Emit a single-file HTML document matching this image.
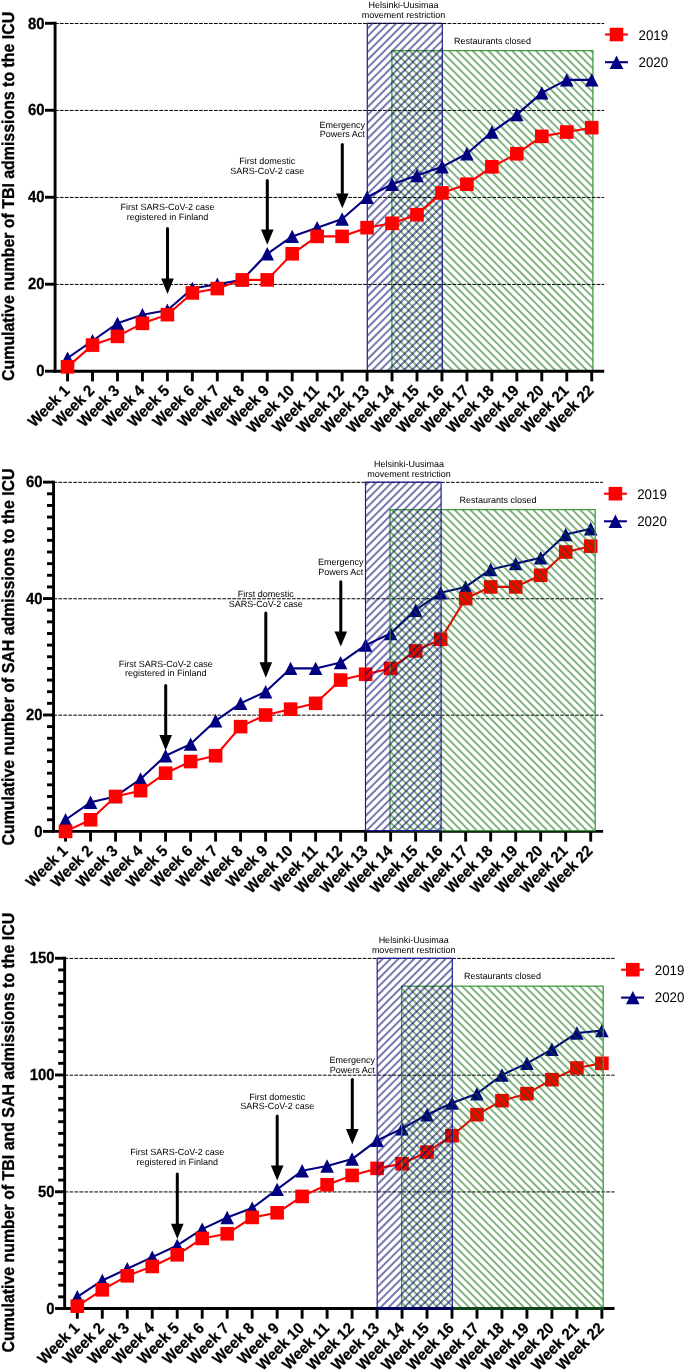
<!DOCTYPE html>
<html><head><meta charset="utf-8"><title>Cumulative ICU admissions</title>
<style>html,body{margin:0;padding:0;background:#fff;}body{width:685px;height:1370px;overflow:hidden;}svg{display:block;font-family:"Liberation Sans", sans-serif;will-change:transform;text-rendering:geometricPrecision;}</style>
</head><body>
<svg width="685" height="1370" viewBox="0 0 685 1370">
<rect width="685" height="1370" fill="#fff"/>
<g id="panel1">
<text transform="translate(14.4,196.4) rotate(-90) scale(1,1.08)" text-anchor="middle" font-size="15.9" font-weight="bold" fill="#000" stroke="#000" stroke-width="0.3">Cumulative number of TBI admissions to the ICU</text>
<clipPath id="cb1"><rect x="367.3" y="23.3" width="75" height="347.9"/></clipPath>
<clipPath id="cg1"><rect x="391.9" y="50.6" width="201" height="320.6"/></clipPath>
<path clip-path="url(#cg1)" d="M60.13,48.6 L384.73,373.2 M68.02,48.6 L392.62,373.2 M75.91,48.6 L400.51,373.2 M83.8,48.6 L408.4,373.2 M91.69,48.6 L416.29,373.2 M99.58,48.6 L424.18,373.2 M107.47,48.6 L432.07,373.2 M115.36,48.6 L439.96,373.2 M123.25,48.6 L447.85,373.2 M131.14,48.6 L455.74,373.2 M139.03,48.6 L463.63,373.2 M146.92,48.6 L471.52,373.2 M154.81,48.6 L479.41,373.2 M162.7,48.6 L487.3,373.2 M170.59,48.6 L495.19,373.2 M178.48,48.6 L503.08,373.2 M186.37,48.6 L510.97,373.2 M194.26,48.6 L518.86,373.2 M202.15,48.6 L526.75,373.2 M210.04,48.6 L534.64,373.2 M217.93,48.6 L542.53,373.2 M225.82,48.6 L550.42,373.2 M233.71,48.6 L558.31,373.2 M241.6,48.6 L566.2,373.2 M249.49,48.6 L574.09,373.2 M257.38,48.6 L581.98,373.2 M265.27,48.6 L589.87,373.2 M273.16,48.6 L597.76,373.2 M281.05,48.6 L605.65,373.2 M288.94,48.6 L613.54,373.2 M296.83,48.6 L621.43,373.2 M304.72,48.6 L629.32,373.2 M312.61,48.6 L637.21,373.2 M320.5,48.6 L645.1,373.2 M328.39,48.6 L652.99,373.2 M336.28,48.6 L660.88,373.2 M344.17,48.6 L668.77,373.2 M352.06,48.6 L676.66,373.2 M359.95,48.6 L684.55,373.2 M367.84,48.6 L692.44,373.2 M375.73,48.6 L700.33,373.2 M383.62,48.6 L708.22,373.2 M391.51,48.6 L716.11,373.2 M399.4,48.6 L724,373.2 M407.29,48.6 L731.89,373.2 M415.18,48.6 L739.78,373.2 M423.07,48.6 L747.67,373.2 M430.96,48.6 L755.56,373.2 M438.85,48.6 L763.45,373.2 M446.74,48.6 L771.34,373.2 M454.63,48.6 L779.23,373.2 M462.52,48.6 L787.12,373.2 M470.41,48.6 L795.01,373.2 M478.3,48.6 L802.9,373.2 M486.19,48.6 L810.79,373.2 M494.08,48.6 L818.68,373.2 M501.97,48.6 L826.57,373.2 M509.86,48.6 L834.46,373.2 M517.75,48.6 L842.35,373.2 M525.64,48.6 L850.24,373.2 M533.53,48.6 L858.13,373.2 M541.42,48.6 L866.02,373.2 M549.31,48.6 L873.91,373.2 M557.2,48.6 L881.8,373.2 M565.09,48.6 L889.69,373.2 M572.98,48.6 L897.58,373.2 M580.87,48.6 L905.47,373.2 M588.76,48.6 L913.36,373.2 M596.65,48.6 L921.25,373.2 M604.54,48.6 L929.14,373.2" stroke="rgba(0,102,0,0.49)" stroke-width="2.0" fill="none"/>
<rect x="391.9" y="50.6" width="201" height="320.6" fill="none" stroke="#3f9a3f" stroke-width="1.3" stroke-linejoin="round"/>
<path clip-path="url(#cb1)" d="M7.03,373.2 L358.93,21.3 M14.9,373.2 L366.8,21.3 M22.78,373.2 L374.68,21.3 M30.65,373.2 L382.55,21.3 M38.53,373.2 L390.43,21.3 M46.4,373.2 L398.3,21.3 M54.28,373.2 L406.18,21.3 M62.15,373.2 L414.05,21.3 M70.03,373.2 L421.93,21.3 M77.9,373.2 L429.8,21.3 M85.78,373.2 L437.68,21.3 M93.65,373.2 L445.55,21.3 M101.53,373.2 L453.43,21.3 M109.4,373.2 L461.3,21.3 M117.28,373.2 L469.18,21.3 M125.15,373.2 L477.05,21.3 M133.03,373.2 L484.93,21.3 M140.9,373.2 L492.8,21.3 M148.78,373.2 L500.68,21.3 M156.65,373.2 L508.55,21.3 M164.53,373.2 L516.43,21.3 M172.4,373.2 L524.3,21.3 M180.28,373.2 L532.18,21.3 M188.15,373.2 L540.05,21.3 M196.03,373.2 L547.93,21.3 M203.9,373.2 L555.8,21.3 M211.78,373.2 L563.68,21.3 M219.65,373.2 L571.55,21.3 M227.53,373.2 L579.43,21.3 M235.4,373.2 L587.3,21.3 M243.28,373.2 L595.18,21.3 M251.15,373.2 L603.05,21.3 M259.03,373.2 L610.93,21.3 M266.9,373.2 L618.8,21.3 M274.78,373.2 L626.68,21.3 M282.65,373.2 L634.55,21.3 M290.53,373.2 L642.43,21.3 M298.4,373.2 L650.3,21.3 M306.28,373.2 L658.18,21.3 M314.15,373.2 L666.05,21.3 M322.03,373.2 L673.93,21.3 M329.9,373.2 L681.8,21.3 M337.78,373.2 L689.68,21.3 M345.65,373.2 L697.55,21.3 M353.53,373.2 L705.43,21.3 M361.4,373.2 L713.3,21.3 M369.28,373.2 L721.18,21.3 M377.15,373.2 L729.05,21.3 M385.03,373.2 L736.93,21.3 M392.9,373.2 L744.8,21.3 M400.78,373.2 L752.68,21.3 M408.65,373.2 L760.55,21.3 M416.53,373.2 L768.43,21.3 M424.4,373.2 L776.3,21.3 M432.28,373.2 L784.18,21.3 M440.15,373.2 L792.05,21.3 M448.03,373.2 L799.93,21.3 M455.9,373.2 L807.8,21.3" stroke="rgba(0,0,110,0.52)" stroke-width="2.0" fill="none"/>
<rect x="367.3" y="23.3" width="75" height="347.9" fill="none" stroke="#1e1e92" stroke-width="1.2"/>
<line x1="54.95" y1="284.41" x2="604.2" y2="284.41" stroke="#000" stroke-width="1" stroke-dasharray="3.7 1.27"/>
<line x1="54.95" y1="197.43" x2="604.2" y2="197.43" stroke="#000" stroke-width="1" stroke-dasharray="3.7 1.27"/>
<line x1="54.95" y1="110.45" x2="604.2" y2="110.45" stroke="#000" stroke-width="1" stroke-dasharray="3.7 1.27"/>
<line x1="54.95" y1="23.48" x2="604.2" y2="23.48" stroke="#000" stroke-width="1" stroke-dasharray="3.7 1.27"/>
<line x1="55.1" y1="21.85" x2="55.1" y2="372.65" stroke="#000" stroke-width="2.9"/>
<line x1="53.65" y1="371.2" x2="604.2" y2="371.2" stroke="#000" stroke-width="2.9"/>
<line x1="45" y1="371.2" x2="55.1" y2="371.2" stroke="#000" stroke-width="2.9"/>
<text transform="translate(44.5,376.4) scale(1,1.085)" text-anchor="end" font-size="14.9" font-weight="bold" fill="#000" stroke="#000" stroke-width="0.25">0</text>
<line x1="45" y1="284.23" x2="55.1" y2="284.23" stroke="#000" stroke-width="2.9"/>
<text transform="translate(44.5,289.43) scale(1,1.085)" text-anchor="end" font-size="14.9" font-weight="bold" fill="#000" stroke="#000" stroke-width="0.25">20</text>
<line x1="45" y1="197.25" x2="55.1" y2="197.25" stroke="#000" stroke-width="2.9"/>
<text transform="translate(44.5,202.45) scale(1,1.085)" text-anchor="end" font-size="14.9" font-weight="bold" fill="#000" stroke="#000" stroke-width="0.25">40</text>
<line x1="45" y1="110.27" x2="55.1" y2="110.27" stroke="#000" stroke-width="2.9"/>
<text transform="translate(44.5,115.47) scale(1,1.085)" text-anchor="end" font-size="14.9" font-weight="bold" fill="#000" stroke="#000" stroke-width="0.25">60</text>
<line x1="45" y1="23.3" x2="55.1" y2="23.3" stroke="#000" stroke-width="2.9"/>
<text transform="translate(44.5,28.5) scale(1,1.085)" text-anchor="end" font-size="14.9" font-weight="bold" fill="#000" stroke="#000" stroke-width="0.25">80</text>
<line x1="67.55" y1="371.2" x2="67.55" y2="381.4" stroke="#000" stroke-width="2.9"/>
<text transform="translate(70.55,391.7) rotate(-45) scale(1,1.05)" text-anchor="end" font-size="15" font-weight="bold" fill="#000" stroke="#000" stroke-width="0.2">Week 1</text>
<line x1="92.51" y1="371.2" x2="92.51" y2="381.4" stroke="#000" stroke-width="2.9"/>
<text transform="translate(95.51,391.7) rotate(-45) scale(1,1.05)" text-anchor="end" font-size="15" font-weight="bold" fill="#000" stroke="#000" stroke-width="0.2">Week 2</text>
<line x1="117.47" y1="371.2" x2="117.47" y2="381.4" stroke="#000" stroke-width="2.9"/>
<text transform="translate(120.47,391.7) rotate(-45) scale(1,1.05)" text-anchor="end" font-size="15" font-weight="bold" fill="#000" stroke="#000" stroke-width="0.2">Week 3</text>
<line x1="142.43" y1="371.2" x2="142.43" y2="381.4" stroke="#000" stroke-width="2.9"/>
<text transform="translate(145.43,391.7) rotate(-45) scale(1,1.05)" text-anchor="end" font-size="15" font-weight="bold" fill="#000" stroke="#000" stroke-width="0.2">Week 4</text>
<line x1="167.39" y1="371.2" x2="167.39" y2="381.4" stroke="#000" stroke-width="2.9"/>
<text transform="translate(170.39,391.7) rotate(-45) scale(1,1.05)" text-anchor="end" font-size="15" font-weight="bold" fill="#000" stroke="#000" stroke-width="0.2">Week 5</text>
<line x1="192.35" y1="371.2" x2="192.35" y2="381.4" stroke="#000" stroke-width="2.9"/>
<text transform="translate(195.35,391.7) rotate(-45) scale(1,1.05)" text-anchor="end" font-size="15" font-weight="bold" fill="#000" stroke="#000" stroke-width="0.2">Week 6</text>
<line x1="217.31" y1="371.2" x2="217.31" y2="381.4" stroke="#000" stroke-width="2.9"/>
<text transform="translate(220.31,391.7) rotate(-45) scale(1,1.05)" text-anchor="end" font-size="15" font-weight="bold" fill="#000" stroke="#000" stroke-width="0.2">Week 7</text>
<line x1="242.27" y1="371.2" x2="242.27" y2="381.4" stroke="#000" stroke-width="2.9"/>
<text transform="translate(245.27,391.7) rotate(-45) scale(1,1.05)" text-anchor="end" font-size="15" font-weight="bold" fill="#000" stroke="#000" stroke-width="0.2">Week 8</text>
<line x1="267.23" y1="371.2" x2="267.23" y2="381.4" stroke="#000" stroke-width="2.9"/>
<text transform="translate(270.23,391.7) rotate(-45) scale(1,1.05)" text-anchor="end" font-size="15" font-weight="bold" fill="#000" stroke="#000" stroke-width="0.2">Week 9</text>
<line x1="292.19" y1="371.2" x2="292.19" y2="381.4" stroke="#000" stroke-width="2.9"/>
<text transform="translate(295.19,391.7) rotate(-45) scale(1,1.05)" text-anchor="end" font-size="15" font-weight="bold" fill="#000" stroke="#000" stroke-width="0.2">Week 10</text>
<line x1="317.15" y1="371.2" x2="317.15" y2="381.4" stroke="#000" stroke-width="2.9"/>
<text transform="translate(320.15,391.7) rotate(-45) scale(1,1.05)" text-anchor="end" font-size="15" font-weight="bold" fill="#000" stroke="#000" stroke-width="0.2">Week 11</text>
<line x1="342.11" y1="371.2" x2="342.11" y2="381.4" stroke="#000" stroke-width="2.9"/>
<text transform="translate(345.11,391.7) rotate(-45) scale(1,1.05)" text-anchor="end" font-size="15" font-weight="bold" fill="#000" stroke="#000" stroke-width="0.2">Week 12</text>
<line x1="367.07" y1="371.2" x2="367.07" y2="381.4" stroke="#000" stroke-width="2.9"/>
<text transform="translate(370.07,391.7) rotate(-45) scale(1,1.05)" text-anchor="end" font-size="15" font-weight="bold" fill="#000" stroke="#000" stroke-width="0.2">Week 13</text>
<line x1="392.03" y1="371.2" x2="392.03" y2="381.4" stroke="#000" stroke-width="2.9"/>
<text transform="translate(395.03,391.7) rotate(-45) scale(1,1.05)" text-anchor="end" font-size="15" font-weight="bold" fill="#000" stroke="#000" stroke-width="0.2">Week 14</text>
<line x1="416.99" y1="371.2" x2="416.99" y2="381.4" stroke="#000" stroke-width="2.9"/>
<text transform="translate(419.99,391.7) rotate(-45) scale(1,1.05)" text-anchor="end" font-size="15" font-weight="bold" fill="#000" stroke="#000" stroke-width="0.2">Week 15</text>
<line x1="441.95" y1="371.2" x2="441.95" y2="381.4" stroke="#000" stroke-width="2.9"/>
<text transform="translate(444.95,391.7) rotate(-45) scale(1,1.05)" text-anchor="end" font-size="15" font-weight="bold" fill="#000" stroke="#000" stroke-width="0.2">Week 16</text>
<line x1="466.91" y1="371.2" x2="466.91" y2="381.4" stroke="#000" stroke-width="2.9"/>
<text transform="translate(469.91,391.7) rotate(-45) scale(1,1.05)" text-anchor="end" font-size="15" font-weight="bold" fill="#000" stroke="#000" stroke-width="0.2">Week 17</text>
<line x1="491.87" y1="371.2" x2="491.87" y2="381.4" stroke="#000" stroke-width="2.9"/>
<text transform="translate(494.87,391.7) rotate(-45) scale(1,1.05)" text-anchor="end" font-size="15" font-weight="bold" fill="#000" stroke="#000" stroke-width="0.2">Week 18</text>
<line x1="516.83" y1="371.2" x2="516.83" y2="381.4" stroke="#000" stroke-width="2.9"/>
<text transform="translate(519.83,391.7) rotate(-45) scale(1,1.05)" text-anchor="end" font-size="15" font-weight="bold" fill="#000" stroke="#000" stroke-width="0.2">Week 19</text>
<line x1="541.79" y1="371.2" x2="541.79" y2="381.4" stroke="#000" stroke-width="2.9"/>
<text transform="translate(544.79,391.7) rotate(-45) scale(1,1.05)" text-anchor="end" font-size="15" font-weight="bold" fill="#000" stroke="#000" stroke-width="0.2">Week 20</text>
<line x1="566.75" y1="371.2" x2="566.75" y2="381.4" stroke="#000" stroke-width="2.9"/>
<text transform="translate(569.75,391.7) rotate(-45) scale(1,1.05)" text-anchor="end" font-size="15" font-weight="bold" fill="#000" stroke="#000" stroke-width="0.2">Week 21</text>
<line x1="591.71" y1="371.2" x2="591.71" y2="381.4" stroke="#000" stroke-width="2.9"/>
<text transform="translate(594.71,391.7) rotate(-45) scale(1,1.05)" text-anchor="end" font-size="15" font-weight="bold" fill="#000" stroke="#000" stroke-width="0.2">Week 22</text>
<text x="167.5" y="209.8" text-anchor="middle" font-size="9" fill="#000">First SARS-CoV-2 case</text>
<text x="167.5" y="219.8" text-anchor="middle" font-size="9" fill="#000">registered in Finland</text>
<line x1="167.5" y1="228.5" x2="167.5" y2="280" stroke="#000" stroke-width="3" stroke-linecap="round"/>
<path d="M161.2,278.4 L173.8,278.4 L167.5,294 Z" fill="#000"/>
<text x="267.3" y="163.65" text-anchor="middle" font-size="9" fill="#000">First domestic</text>
<text x="267.3" y="173.6" text-anchor="middle" font-size="9" fill="#000">SARS-CoV-2 case</text>
<line x1="267.3" y1="180.6" x2="267.3" y2="231.2" stroke="#000" stroke-width="3" stroke-linecap="round"/>
<path d="M261,229.6 L273.6,229.6 L267.3,244.8 Z" fill="#000"/>
<text x="342.3" y="127.7" text-anchor="middle" font-size="9" fill="#000">Emergency</text>
<text x="342.3" y="137.3" text-anchor="middle" font-size="9" fill="#000">Powers Act</text>
<line x1="342.3" y1="144.5" x2="342.3" y2="195.1" stroke="#000" stroke-width="3" stroke-linecap="round"/>
<path d="M336,193.5 L348.6,193.5 L342.3,208.3 Z" fill="#000"/>
<text x="403.6" y="7.6" text-anchor="middle" font-size="9" fill="#000">Helsinki-Uusimaa</text>
<text x="403.6" y="17.5" text-anchor="middle" font-size="9" fill="#000">movement restriction</text>
<text x="492.55" y="43.7" text-anchor="middle" font-size="9" fill="#000">Restaurants closed</text>
<polyline points="67.55,358.15 92.51,340.76 117.47,323.36 142.43,314.67 167.39,310.32 192.35,288.57 217.31,284.23 242.27,279.88 267.23,253.78 292.19,236.39 317.15,227.69 342.11,218.99 367.07,197.25 392.03,184.2 416.99,175.51 441.95,166.81 466.91,153.76 491.87,132.02 516.83,114.62 541.79,92.88 566.75,79.83 591.71,79.83" fill="none" stroke="#000080" stroke-width="2.1" stroke-linejoin="round"/>
<path d="M67.55,351.45 L74.35,364.85 L60.75,364.85 Z" fill="#000080"/>
<path d="M92.51,334.06 L99.31,347.46 L85.71,347.46 Z" fill="#000080"/>
<path d="M117.47,316.66 L124.27,330.06 L110.67,330.06 Z" fill="#000080"/>
<path d="M142.43,307.97 L149.23,321.37 L135.63,321.37 Z" fill="#000080"/>
<path d="M167.39,303.62 L174.19,317.02 L160.59,317.02 Z" fill="#000080"/>
<path d="M192.35,281.87 L199.15,295.27 L185.55,295.27 Z" fill="#000080"/>
<path d="M217.31,277.53 L224.11,290.93 L210.51,290.93 Z" fill="#000080"/>
<path d="M242.27,273.18 L249.07,286.58 L235.47,286.58 Z" fill="#000080"/>
<path d="M267.23,247.08 L274.03,260.48 L260.43,260.48 Z" fill="#000080"/>
<path d="M292.19,229.69 L298.99,243.09 L285.39,243.09 Z" fill="#000080"/>
<path d="M317.15,220.99 L323.95,234.39 L310.35,234.39 Z" fill="#000080"/>
<path d="M342.11,212.29 L348.91,225.69 L335.31,225.69 Z" fill="#000080"/>
<path d="M367.07,190.55 L373.87,203.95 L360.27,203.95 Z" fill="#000080"/>
<path d="M392.03,177.5 L398.83,190.9 L385.23,190.9 Z" fill="#000080"/>
<path d="M416.99,168.81 L423.79,182.21 L410.19,182.21 Z" fill="#000080"/>
<path d="M441.95,160.11 L448.75,173.51 L435.15,173.51 Z" fill="#000080"/>
<path d="M466.91,147.06 L473.71,160.46 L460.11,160.46 Z" fill="#000080"/>
<path d="M491.87,125.32 L498.67,138.72 L485.07,138.72 Z" fill="#000080"/>
<path d="M516.83,107.92 L523.63,121.32 L510.03,121.32 Z" fill="#000080"/>
<path d="M541.79,86.18 L548.59,99.58 L534.99,99.58 Z" fill="#000080"/>
<path d="M566.75,73.13 L573.55,86.53 L559.95,86.53 Z" fill="#000080"/>
<path d="M591.71,73.13 L598.51,86.53 L584.91,86.53 Z" fill="#000080"/>
<polyline points="67.55,366.85 92.51,345.11 117.47,336.41 142.43,323.36 167.39,314.67 192.35,292.92 217.31,288.57 242.27,279.88 267.23,279.88 292.19,253.78 317.15,236.39 342.11,236.39 367.07,227.69 392.03,223.34 416.99,214.64 441.95,192.9 466.91,184.2 491.87,166.81 516.83,153.76 541.79,136.37 566.75,132.02 591.71,127.67" fill="none" stroke="#ff0000" stroke-width="2.1" stroke-linejoin="round"/>
<rect x="60.75" y="360.05" width="13.6" height="13.6" fill="#ff0000"/>
<rect x="85.71" y="338.31" width="13.6" height="13.6" fill="#ff0000"/>
<rect x="110.67" y="329.61" width="13.6" height="13.6" fill="#ff0000"/>
<rect x="135.63" y="316.56" width="13.6" height="13.6" fill="#ff0000"/>
<rect x="160.59" y="307.87" width="13.6" height="13.6" fill="#ff0000"/>
<rect x="185.55" y="286.12" width="13.6" height="13.6" fill="#ff0000"/>
<rect x="210.51" y="281.77" width="13.6" height="13.6" fill="#ff0000"/>
<rect x="235.47" y="273.08" width="13.6" height="13.6" fill="#ff0000"/>
<rect x="260.43" y="273.08" width="13.6" height="13.6" fill="#ff0000"/>
<rect x="285.39" y="246.98" width="13.6" height="13.6" fill="#ff0000"/>
<rect x="310.35" y="229.59" width="13.6" height="13.6" fill="#ff0000"/>
<rect x="335.31" y="229.59" width="13.6" height="13.6" fill="#ff0000"/>
<rect x="360.27" y="220.89" width="13.6" height="13.6" fill="#ff0000"/>
<rect x="385.23" y="216.54" width="13.6" height="13.6" fill="#ff0000"/>
<rect x="410.19" y="207.84" width="13.6" height="13.6" fill="#ff0000"/>
<rect x="435.15" y="186.1" width="13.6" height="13.6" fill="#ff0000"/>
<rect x="460.11" y="177.4" width="13.6" height="13.6" fill="#ff0000"/>
<rect x="485.07" y="160.01" width="13.6" height="13.6" fill="#ff0000"/>
<rect x="510.03" y="146.96" width="13.6" height="13.6" fill="#ff0000"/>
<rect x="534.99" y="129.57" width="13.6" height="13.6" fill="#ff0000"/>
<rect x="559.95" y="125.22" width="13.6" height="13.6" fill="#ff0000"/>
<rect x="584.91" y="120.87" width="13.6" height="13.6" fill="#ff0000"/>
<line x1="605" y1="34.5" x2="627.9" y2="34.5" stroke="#ff0000" stroke-width="2.1"/>
<rect x="609.7" y="27.7" width="13.6" height="13.6" fill="#ff0000"/>
<text transform="translate(638.5,39.6) scale(0.965,1)" font-size="13.8" fill="#000">2019</text>
<line x1="605" y1="62.2" x2="627.9" y2="62.2" stroke="#000080" stroke-width="2.1"/>
<path d="M616.5,55.5 L623.3,68.9 L609.7,68.9 Z" fill="#000080"/>
<text transform="translate(638.5,66.9) scale(0.965,1)" font-size="13.8" fill="#000">2020</text>
</g>
<g id="panel2">
<text transform="translate(14.4,657) rotate(-90) scale(1,1.08)" text-anchor="middle" font-size="15.9" font-weight="bold" fill="#000" stroke="#000" stroke-width="0.3">Cumulative number of SAH admissions to the ICU</text>
<line x1="53.4" y1="715.16" x2="603.1" y2="715.16" stroke="#000" stroke-width="1" stroke-dasharray="3.7 1.27"/>
<line x1="53.4" y1="598.75" x2="603.1" y2="598.75" stroke="#000" stroke-width="1" stroke-dasharray="3.7 1.27"/>
<line x1="53.4" y1="482.33" x2="603.1" y2="482.33" stroke="#000" stroke-width="1" stroke-dasharray="3.7 1.27"/>
<line x1="53.55" y1="480.7" x2="53.55" y2="832.85" stroke="#000" stroke-width="2.9"/>
<line x1="52.1" y1="831.4" x2="603.1" y2="831.4" stroke="#000" stroke-width="2.9"/>
<line x1="43.05" y1="831.4" x2="53.55" y2="831.4" stroke="#000" stroke-width="2.9"/>
<text transform="translate(42.55,836.6) scale(1,1.085)" text-anchor="end" font-size="14.9" font-weight="bold" fill="#000" stroke="#000" stroke-width="0.25">0</text>
<line x1="43.05" y1="714.98" x2="53.55" y2="714.98" stroke="#000" stroke-width="2.9"/>
<text transform="translate(42.55,720.18) scale(1,1.085)" text-anchor="end" font-size="14.9" font-weight="bold" fill="#000" stroke="#000" stroke-width="0.25">20</text>
<line x1="43.05" y1="598.57" x2="53.55" y2="598.57" stroke="#000" stroke-width="2.9"/>
<text transform="translate(42.55,603.77) scale(1,1.085)" text-anchor="end" font-size="14.9" font-weight="bold" fill="#000" stroke="#000" stroke-width="0.25">40</text>
<line x1="43.05" y1="482.15" x2="53.55" y2="482.15" stroke="#000" stroke-width="2.9"/>
<text transform="translate(42.55,487.35) scale(1,1.085)" text-anchor="end" font-size="14.9" font-weight="bold" fill="#000" stroke="#000" stroke-width="0.25">60</text>
<line x1="47" y1="819.76" x2="53.55" y2="819.76" stroke="#000" stroke-width="2.9"/>
<line x1="47" y1="808.12" x2="53.55" y2="808.12" stroke="#000" stroke-width="2.9"/>
<line x1="47" y1="796.48" x2="53.55" y2="796.48" stroke="#000" stroke-width="2.9"/>
<line x1="47" y1="784.83" x2="53.55" y2="784.83" stroke="#000" stroke-width="2.9"/>
<line x1="47" y1="773.19" x2="53.55" y2="773.19" stroke="#000" stroke-width="2.9"/>
<line x1="47" y1="761.55" x2="53.55" y2="761.55" stroke="#000" stroke-width="2.9"/>
<line x1="47" y1="749.91" x2="53.55" y2="749.91" stroke="#000" stroke-width="2.9"/>
<line x1="47" y1="738.27" x2="53.55" y2="738.27" stroke="#000" stroke-width="2.9"/>
<line x1="47" y1="726.62" x2="53.55" y2="726.62" stroke="#000" stroke-width="2.9"/>
<line x1="47" y1="703.34" x2="53.55" y2="703.34" stroke="#000" stroke-width="2.9"/>
<line x1="47" y1="691.7" x2="53.55" y2="691.7" stroke="#000" stroke-width="2.9"/>
<line x1="47" y1="680.06" x2="53.55" y2="680.06" stroke="#000" stroke-width="2.9"/>
<line x1="47" y1="668.42" x2="53.55" y2="668.42" stroke="#000" stroke-width="2.9"/>
<line x1="47" y1="656.77" x2="53.55" y2="656.77" stroke="#000" stroke-width="2.9"/>
<line x1="47" y1="645.13" x2="53.55" y2="645.13" stroke="#000" stroke-width="2.9"/>
<line x1="47" y1="633.49" x2="53.55" y2="633.49" stroke="#000" stroke-width="2.9"/>
<line x1="47" y1="621.85" x2="53.55" y2="621.85" stroke="#000" stroke-width="2.9"/>
<line x1="47" y1="610.21" x2="53.55" y2="610.21" stroke="#000" stroke-width="2.9"/>
<line x1="47" y1="586.92" x2="53.55" y2="586.92" stroke="#000" stroke-width="2.9"/>
<line x1="47" y1="575.28" x2="53.55" y2="575.28" stroke="#000" stroke-width="2.9"/>
<line x1="47" y1="563.64" x2="53.55" y2="563.64" stroke="#000" stroke-width="2.9"/>
<line x1="47" y1="552" x2="53.55" y2="552" stroke="#000" stroke-width="2.9"/>
<line x1="47" y1="540.36" x2="53.55" y2="540.36" stroke="#000" stroke-width="2.9"/>
<line x1="47" y1="528.72" x2="53.55" y2="528.72" stroke="#000" stroke-width="2.9"/>
<line x1="47" y1="517.07" x2="53.55" y2="517.07" stroke="#000" stroke-width="2.9"/>
<line x1="47" y1="505.43" x2="53.55" y2="505.43" stroke="#000" stroke-width="2.9"/>
<line x1="47" y1="493.79" x2="53.55" y2="493.79" stroke="#000" stroke-width="2.9"/>
<line x1="65.55" y1="831.4" x2="65.55" y2="841.6" stroke="#000" stroke-width="2.9"/>
<text transform="translate(68.55,851.9) rotate(-45) scale(1,1.05)" text-anchor="end" font-size="15" font-weight="bold" fill="#000" stroke="#000" stroke-width="0.2">Week 1</text>
<line x1="90.56" y1="831.4" x2="90.56" y2="841.6" stroke="#000" stroke-width="2.9"/>
<text transform="translate(93.56,851.9) rotate(-45) scale(1,1.05)" text-anchor="end" font-size="15" font-weight="bold" fill="#000" stroke="#000" stroke-width="0.2">Week 2</text>
<line x1="115.56" y1="831.4" x2="115.56" y2="841.6" stroke="#000" stroke-width="2.9"/>
<text transform="translate(118.56,851.9) rotate(-45) scale(1,1.05)" text-anchor="end" font-size="15" font-weight="bold" fill="#000" stroke="#000" stroke-width="0.2">Week 3</text>
<line x1="140.57" y1="831.4" x2="140.57" y2="841.6" stroke="#000" stroke-width="2.9"/>
<text transform="translate(143.57,851.9) rotate(-45) scale(1,1.05)" text-anchor="end" font-size="15" font-weight="bold" fill="#000" stroke="#000" stroke-width="0.2">Week 4</text>
<line x1="165.58" y1="831.4" x2="165.58" y2="841.6" stroke="#000" stroke-width="2.9"/>
<text transform="translate(168.58,851.9) rotate(-45) scale(1,1.05)" text-anchor="end" font-size="15" font-weight="bold" fill="#000" stroke="#000" stroke-width="0.2">Week 5</text>
<line x1="190.59" y1="831.4" x2="190.59" y2="841.6" stroke="#000" stroke-width="2.9"/>
<text transform="translate(193.59,851.9) rotate(-45) scale(1,1.05)" text-anchor="end" font-size="15" font-weight="bold" fill="#000" stroke="#000" stroke-width="0.2">Week 6</text>
<line x1="215.59" y1="831.4" x2="215.59" y2="841.6" stroke="#000" stroke-width="2.9"/>
<text transform="translate(218.59,851.9) rotate(-45) scale(1,1.05)" text-anchor="end" font-size="15" font-weight="bold" fill="#000" stroke="#000" stroke-width="0.2">Week 7</text>
<line x1="240.6" y1="831.4" x2="240.6" y2="841.6" stroke="#000" stroke-width="2.9"/>
<text transform="translate(243.6,851.9) rotate(-45) scale(1,1.05)" text-anchor="end" font-size="15" font-weight="bold" fill="#000" stroke="#000" stroke-width="0.2">Week 8</text>
<line x1="265.61" y1="831.4" x2="265.61" y2="841.6" stroke="#000" stroke-width="2.9"/>
<text transform="translate(268.61,851.9) rotate(-45) scale(1,1.05)" text-anchor="end" font-size="15" font-weight="bold" fill="#000" stroke="#000" stroke-width="0.2">Week 9</text>
<line x1="290.61" y1="831.4" x2="290.61" y2="841.6" stroke="#000" stroke-width="2.9"/>
<text transform="translate(293.61,851.9) rotate(-45) scale(1,1.05)" text-anchor="end" font-size="15" font-weight="bold" fill="#000" stroke="#000" stroke-width="0.2">Week 10</text>
<line x1="315.62" y1="831.4" x2="315.62" y2="841.6" stroke="#000" stroke-width="2.9"/>
<text transform="translate(318.62,851.9) rotate(-45) scale(1,1.05)" text-anchor="end" font-size="15" font-weight="bold" fill="#000" stroke="#000" stroke-width="0.2">Week 11</text>
<line x1="340.63" y1="831.4" x2="340.63" y2="841.6" stroke="#000" stroke-width="2.9"/>
<text transform="translate(343.63,851.9) rotate(-45) scale(1,1.05)" text-anchor="end" font-size="15" font-weight="bold" fill="#000" stroke="#000" stroke-width="0.2">Week 12</text>
<line x1="365.63" y1="831.4" x2="365.63" y2="841.6" stroke="#000" stroke-width="2.9"/>
<text transform="translate(368.63,851.9) rotate(-45) scale(1,1.05)" text-anchor="end" font-size="15" font-weight="bold" fill="#000" stroke="#000" stroke-width="0.2">Week 13</text>
<line x1="390.64" y1="831.4" x2="390.64" y2="841.6" stroke="#000" stroke-width="2.9"/>
<text transform="translate(393.64,851.9) rotate(-45) scale(1,1.05)" text-anchor="end" font-size="15" font-weight="bold" fill="#000" stroke="#000" stroke-width="0.2">Week 14</text>
<line x1="415.65" y1="831.4" x2="415.65" y2="841.6" stroke="#000" stroke-width="2.9"/>
<text transform="translate(418.65,851.9) rotate(-45) scale(1,1.05)" text-anchor="end" font-size="15" font-weight="bold" fill="#000" stroke="#000" stroke-width="0.2">Week 15</text>
<line x1="440.66" y1="831.4" x2="440.66" y2="841.6" stroke="#000" stroke-width="2.9"/>
<text transform="translate(443.66,851.9) rotate(-45) scale(1,1.05)" text-anchor="end" font-size="15" font-weight="bold" fill="#000" stroke="#000" stroke-width="0.2">Week 16</text>
<line x1="465.66" y1="831.4" x2="465.66" y2="841.6" stroke="#000" stroke-width="2.9"/>
<text transform="translate(468.66,851.9) rotate(-45) scale(1,1.05)" text-anchor="end" font-size="15" font-weight="bold" fill="#000" stroke="#000" stroke-width="0.2">Week 17</text>
<line x1="490.67" y1="831.4" x2="490.67" y2="841.6" stroke="#000" stroke-width="2.9"/>
<text transform="translate(493.67,851.9) rotate(-45) scale(1,1.05)" text-anchor="end" font-size="15" font-weight="bold" fill="#000" stroke="#000" stroke-width="0.2">Week 18</text>
<line x1="515.68" y1="831.4" x2="515.68" y2="841.6" stroke="#000" stroke-width="2.9"/>
<text transform="translate(518.68,851.9) rotate(-45) scale(1,1.05)" text-anchor="end" font-size="15" font-weight="bold" fill="#000" stroke="#000" stroke-width="0.2">Week 19</text>
<line x1="540.68" y1="831.4" x2="540.68" y2="841.6" stroke="#000" stroke-width="2.9"/>
<text transform="translate(543.68,851.9) rotate(-45) scale(1,1.05)" text-anchor="end" font-size="15" font-weight="bold" fill="#000" stroke="#000" stroke-width="0.2">Week 20</text>
<line x1="565.69" y1="831.4" x2="565.69" y2="841.6" stroke="#000" stroke-width="2.9"/>
<text transform="translate(568.69,851.9) rotate(-45) scale(1,1.05)" text-anchor="end" font-size="15" font-weight="bold" fill="#000" stroke="#000" stroke-width="0.2">Week 21</text>
<line x1="590.7" y1="831.4" x2="590.7" y2="841.6" stroke="#000" stroke-width="2.9"/>
<text transform="translate(593.7,851.9) rotate(-45) scale(1,1.05)" text-anchor="end" font-size="15" font-weight="bold" fill="#000" stroke="#000" stroke-width="0.2">Week 22</text>
<text x="165.7" y="666.6" text-anchor="middle" font-size="9" fill="#000">First SARS-CoV-2 case</text>
<text x="165.7" y="676.3" text-anchor="middle" font-size="9" fill="#000">registered in Finland</text>
<line x1="165.7" y1="685.4" x2="165.7" y2="736.5" stroke="#000" stroke-width="3" stroke-linecap="round"/>
<path d="M159.4,734.9 L172,734.9 L165.7,750.5 Z" fill="#000"/>
<text x="265.8" y="596.6" text-anchor="middle" font-size="9" fill="#000">First domestic</text>
<text x="265.8" y="606.8" text-anchor="middle" font-size="9" fill="#000">SARS-CoV-2 case</text>
<line x1="265.8" y1="612.9" x2="265.8" y2="663.9" stroke="#000" stroke-width="3" stroke-linecap="round"/>
<path d="M259.5,662.3 L272.1,662.3 L265.8,677.8 Z" fill="#000"/>
<text x="340.8" y="565.4" text-anchor="middle" font-size="9" fill="#000">Emergency</text>
<text x="340.8" y="575" text-anchor="middle" font-size="9" fill="#000">Powers Act</text>
<line x1="340.8" y1="581.8" x2="340.8" y2="633" stroke="#000" stroke-width="3" stroke-linecap="round"/>
<path d="M334.5,631.4 L347.1,631.4 L340.8,646.6 Z" fill="#000"/>
<text x="409.1" y="466.7" text-anchor="middle" font-size="9" fill="#000">Helsinki-Uusimaa</text>
<text x="409.1" y="476.5" text-anchor="middle" font-size="9" fill="#000">movement restriction</text>
<text x="498" y="502.8" text-anchor="middle" font-size="9" fill="#000">Restaurants closed</text>
<polyline points="65.55,819.76 90.56,802.3 115.56,796.48 140.57,779.01 165.58,755.73 190.59,744.09 215.59,720.8 240.6,703.34 265.61,691.7 290.61,668.42 315.62,668.42 340.63,662.6 365.63,645.13 390.64,633.49 415.65,610.21 440.66,592.75 465.66,586.92 490.67,569.46 515.68,563.64 540.68,557.82 565.69,534.54 590.7,528.72" fill="none" stroke="#000080" stroke-width="2.1" stroke-linejoin="round"/>
<path d="M65.55,813.06 L72.35,826.46 L58.75,826.46 Z" fill="#000080"/>
<path d="M90.56,795.6 L97.36,809 L83.76,809 Z" fill="#000080"/>
<path d="M115.56,789.77 L122.36,803.18 L108.76,803.18 Z" fill="#000080"/>
<path d="M140.57,772.31 L147.37,785.71 L133.77,785.71 Z" fill="#000080"/>
<path d="M165.58,749.03 L172.38,762.43 L158.78,762.43 Z" fill="#000080"/>
<path d="M190.59,737.39 L197.39,750.79 L183.78,750.79 Z" fill="#000080"/>
<path d="M215.59,714.1 L222.39,727.5 L208.79,727.5 Z" fill="#000080"/>
<path d="M240.6,696.64 L247.4,710.04 L233.8,710.04 Z" fill="#000080"/>
<path d="M265.61,685 L272.41,698.4 L258.81,698.4 Z" fill="#000080"/>
<path d="M290.61,661.72 L297.41,675.12 L283.81,675.12 Z" fill="#000080"/>
<path d="M315.62,661.72 L322.42,675.12 L308.82,675.12 Z" fill="#000080"/>
<path d="M340.63,655.9 L347.43,669.3 L333.83,669.3 Z" fill="#000080"/>
<path d="M365.63,638.43 L372.43,651.83 L358.83,651.83 Z" fill="#000080"/>
<path d="M390.64,626.79 L397.44,640.19 L383.84,640.19 Z" fill="#000080"/>
<path d="M415.65,603.51 L422.45,616.91 L408.85,616.91 Z" fill="#000080"/>
<path d="M440.66,586.05 L447.46,599.45 L433.86,599.45 Z" fill="#000080"/>
<path d="M465.66,580.22 L472.46,593.62 L458.86,593.62 Z" fill="#000080"/>
<path d="M490.67,562.76 L497.47,576.16 L483.87,576.16 Z" fill="#000080"/>
<path d="M515.68,556.94 L522.48,570.34 L508.88,570.34 Z" fill="#000080"/>
<path d="M540.68,551.12 L547.48,564.52 L533.88,564.52 Z" fill="#000080"/>
<path d="M565.69,527.84 L572.49,541.24 L558.89,541.24 Z" fill="#000080"/>
<path d="M590.7,522.02 L597.5,535.42 L583.9,535.42 Z" fill="#000080"/>
<polyline points="65.55,831.4 90.56,819.76 115.56,796.48 140.57,790.65 165.58,773.19 190.59,761.55 215.59,755.73 240.6,726.62 265.61,714.98 290.61,709.16 315.62,703.34 340.63,680.06 365.63,674.24 390.64,668.42 415.65,650.95 440.66,639.31 465.66,598.57 490.67,586.92 515.68,586.92 540.68,575.28 565.69,552 590.7,546.18" fill="none" stroke="#ff0000" stroke-width="2.1" stroke-linejoin="round"/>
<rect x="58.75" y="824.6" width="13.6" height="13.6" fill="#ff0000"/>
<rect x="83.76" y="812.96" width="13.6" height="13.6" fill="#ff0000"/>
<rect x="108.76" y="789.68" width="13.6" height="13.6" fill="#ff0000"/>
<rect x="133.77" y="783.85" width="13.6" height="13.6" fill="#ff0000"/>
<rect x="158.78" y="766.39" width="13.6" height="13.6" fill="#ff0000"/>
<rect x="183.78" y="754.75" width="13.6" height="13.6" fill="#ff0000"/>
<rect x="208.79" y="748.93" width="13.6" height="13.6" fill="#ff0000"/>
<rect x="233.8" y="719.83" width="13.6" height="13.6" fill="#ff0000"/>
<rect x="258.81" y="708.18" width="13.6" height="13.6" fill="#ff0000"/>
<rect x="283.81" y="702.36" width="13.6" height="13.6" fill="#ff0000"/>
<rect x="308.82" y="696.54" width="13.6" height="13.6" fill="#ff0000"/>
<rect x="333.83" y="673.26" width="13.6" height="13.6" fill="#ff0000"/>
<rect x="358.83" y="667.44" width="13.6" height="13.6" fill="#ff0000"/>
<rect x="383.84" y="661.62" width="13.6" height="13.6" fill="#ff0000"/>
<rect x="408.85" y="644.15" width="13.6" height="13.6" fill="#ff0000"/>
<rect x="433.86" y="632.51" width="13.6" height="13.6" fill="#ff0000"/>
<rect x="458.86" y="591.77" width="13.6" height="13.6" fill="#ff0000"/>
<rect x="483.87" y="580.12" width="13.6" height="13.6" fill="#ff0000"/>
<rect x="508.88" y="580.12" width="13.6" height="13.6" fill="#ff0000"/>
<rect x="533.88" y="568.48" width="13.6" height="13.6" fill="#ff0000"/>
<rect x="558.89" y="545.2" width="13.6" height="13.6" fill="#ff0000"/>
<rect x="583.9" y="539.38" width="13.6" height="13.6" fill="#ff0000"/>
<clipPath id="cb2"><rect x="365.5" y="482.15" width="75.6" height="348.45"/></clipPath>
<clipPath id="cg2"><rect x="390" y="509.6" width="205.2" height="321"/></clipPath>
<path clip-path="url(#cg2)" d="M51.92,507.6 L376.92,832.6 M59.78,507.6 L384.78,832.6 M67.63,507.6 L392.63,832.6 M75.48,507.6 L400.48,832.6 M83.33,507.6 L408.33,832.6 M91.18,507.6 L416.18,832.6 M99.04,507.6 L424.04,832.6 M106.89,507.6 L431.89,832.6 M114.74,507.6 L439.74,832.6 M122.59,507.6 L447.59,832.6 M130.44,507.6 L455.44,832.6 M138.3,507.6 L463.3,832.6 M146.15,507.6 L471.15,832.6 M154,507.6 L479,832.6 M161.85,507.6 L486.85,832.6 M169.7,507.6 L494.7,832.6 M177.56,507.6 L502.56,832.6 M185.41,507.6 L510.41,832.6 M193.26,507.6 L518.26,832.6 M201.11,507.6 L526.11,832.6 M208.96,507.6 L533.96,832.6 M216.82,507.6 L541.82,832.6 M224.67,507.6 L549.67,832.6 M232.52,507.6 L557.52,832.6 M240.37,507.6 L565.37,832.6 M248.22,507.6 L573.22,832.6 M256.08,507.6 L581.08,832.6 M263.93,507.6 L588.93,832.6 M271.78,507.6 L596.78,832.6 M279.63,507.6 L604.63,832.6 M287.48,507.6 L612.48,832.6 M295.34,507.6 L620.34,832.6 M303.19,507.6 L628.19,832.6 M311.04,507.6 L636.04,832.6 M318.89,507.6 L643.89,832.6 M326.74,507.6 L651.74,832.6 M334.6,507.6 L659.6,832.6 M342.45,507.6 L667.45,832.6 M350.3,507.6 L675.3,832.6 M358.15,507.6 L683.15,832.6 M366,507.6 L691,832.6 M373.86,507.6 L698.86,832.6 M381.71,507.6 L706.71,832.6 M389.56,507.6 L714.56,832.6 M397.41,507.6 L722.41,832.6 M405.26,507.6 L730.26,832.6 M413.12,507.6 L738.12,832.6 M420.97,507.6 L745.97,832.6 M428.82,507.6 L753.82,832.6 M436.67,507.6 L761.67,832.6 M444.52,507.6 L769.52,832.6 M452.38,507.6 L777.38,832.6 M460.23,507.6 L785.23,832.6 M468.08,507.6 L793.08,832.6 M475.93,507.6 L800.93,832.6 M483.78,507.6 L808.78,832.6 M491.64,507.6 L816.64,832.6 M499.49,507.6 L824.49,832.6 M507.34,507.6 L832.34,832.6 M515.19,507.6 L840.19,832.6 M523.04,507.6 L848.04,832.6 M530.9,507.6 L855.9,832.6 M538.75,507.6 L863.75,832.6 M546.6,507.6 L871.6,832.6 M554.45,507.6 L879.45,832.6 M562.3,507.6 L887.3,832.6 M570.16,507.6 L895.16,832.6 M578.01,507.6 L903.01,832.6 M585.86,507.6 L910.86,832.6 M593.71,507.6 L918.71,832.6 M601.56,507.6 L926.56,832.6" stroke="rgba(0,102,0,0.49)" stroke-width="2.0" fill="none"/>
<rect x="390" y="509.6" width="205.2" height="321" fill="none" stroke="#3f9a3f" stroke-width="1.3" stroke-linejoin="round"/>
<path clip-path="url(#cb2)" d="M2.37,832.6 L354.82,480.15 M10.25,832.6 L362.7,480.15 M18.12,832.6 L370.57,480.15 M26,832.6 L378.45,480.15 M33.87,832.6 L386.32,480.15 M41.75,832.6 L394.2,480.15 M49.62,832.6 L402.07,480.15 M57.5,832.6 L409.95,480.15 M65.37,832.6 L417.82,480.15 M73.25,832.6 L425.7,480.15 M81.12,832.6 L433.57,480.15 M89,832.6 L441.45,480.15 M96.87,832.6 L449.32,480.15 M104.75,832.6 L457.2,480.15 M112.62,832.6 L465.07,480.15 M120.5,832.6 L472.95,480.15 M128.37,832.6 L480.82,480.15 M136.25,832.6 L488.7,480.15 M144.12,832.6 L496.57,480.15 M152,832.6 L504.45,480.15 M159.87,832.6 L512.32,480.15 M167.75,832.6 L520.2,480.15 M175.62,832.6 L528.07,480.15 M183.5,832.6 L535.95,480.15 M191.37,832.6 L543.82,480.15 M199.25,832.6 L551.7,480.15 M207.12,832.6 L559.57,480.15 M215,832.6 L567.45,480.15 M222.87,832.6 L575.32,480.15 M230.75,832.6 L583.2,480.15 M238.62,832.6 L591.07,480.15 M246.5,832.6 L598.95,480.15 M254.37,832.6 L606.82,480.15 M262.25,832.6 L614.7,480.15 M270.12,832.6 L622.57,480.15 M278,832.6 L630.45,480.15 M285.87,832.6 L638.32,480.15 M293.75,832.6 L646.2,480.15 M301.62,832.6 L654.07,480.15 M309.5,832.6 L661.95,480.15 M317.37,832.6 L669.82,480.15 M325.25,832.6 L677.7,480.15 M333.12,832.6 L685.57,480.15 M341,832.6 L693.45,480.15 M348.87,832.6 L701.32,480.15 M356.75,832.6 L709.2,480.15 M364.62,832.6 L717.07,480.15 M372.5,832.6 L724.95,480.15 M380.37,832.6 L732.82,480.15 M388.25,832.6 L740.7,480.15 M396.12,832.6 L748.57,480.15 M404,832.6 L756.45,480.15 M411.87,832.6 L764.32,480.15 M419.75,832.6 L772.2,480.15 M427.62,832.6 L780.07,480.15 M435.5,832.6 L787.95,480.15 M443.37,832.6 L795.82,480.15 M451.25,832.6 L803.7,480.15" stroke="rgba(0,0,110,0.52)" stroke-width="2.0" fill="none"/>
<rect x="365.5" y="482.15" width="75.6" height="348.45" fill="none" stroke="#1e1e92" stroke-width="1.2"/>
<line x1="604" y1="493.7" x2="626.9" y2="493.7" stroke="#ff0000" stroke-width="2.1"/>
<rect x="608.6" y="486.9" width="13.6" height="13.6" fill="#ff0000"/>
<text transform="translate(637.2,498.8) scale(0.965,1)" font-size="13.8" fill="#000">2019</text>
<line x1="604" y1="521.3" x2="626.9" y2="521.3" stroke="#000080" stroke-width="2.1"/>
<path d="M615.4,514.6 L622.2,528 L608.6,528 Z" fill="#000080"/>
<text transform="translate(637.2,526.1) scale(0.965,1)" font-size="13.8" fill="#000">2020</text>
</g>
<g id="panel3">
<text transform="translate(14.4,1132.7) rotate(-90) scale(1,1.08)" text-anchor="middle" font-size="15.9" font-weight="bold" fill="#000" stroke="#000" stroke-width="0.3">Cumulative number of TBI and SAH admissions to the ICU</text>
<line x1="64.5" y1="1191.93" x2="614.5" y2="1191.93" stroke="#000" stroke-width="1" stroke-dasharray="3.7 1.27"/>
<line x1="64.5" y1="1075.18" x2="614.5" y2="1075.18" stroke="#000" stroke-width="1" stroke-dasharray="3.7 1.27"/>
<line x1="64.5" y1="958.43" x2="614.5" y2="958.43" stroke="#000" stroke-width="1" stroke-dasharray="3.7 1.27"/>
<line x1="64.65" y1="956.8" x2="64.65" y2="1309.95" stroke="#000" stroke-width="2.9"/>
<line x1="63.2" y1="1308.5" x2="614.5" y2="1308.5" stroke="#000" stroke-width="2.9"/>
<line x1="55" y1="1308.5" x2="64.65" y2="1308.5" stroke="#000" stroke-width="2.9"/>
<text transform="translate(54.5,1313.7) scale(1,1.085)" text-anchor="end" font-size="14.9" font-weight="bold" fill="#000" stroke="#000" stroke-width="0.25">0</text>
<line x1="55" y1="1191.75" x2="64.65" y2="1191.75" stroke="#000" stroke-width="2.9"/>
<text transform="translate(54.5,1196.95) scale(1,1.085)" text-anchor="end" font-size="14.9" font-weight="bold" fill="#000" stroke="#000" stroke-width="0.25">50</text>
<line x1="55" y1="1075" x2="64.65" y2="1075" stroke="#000" stroke-width="2.9"/>
<text transform="translate(54.5,1080.2) scale(1,1.085)" text-anchor="end" font-size="14.9" font-weight="bold" fill="#000" stroke="#000" stroke-width="0.25">100</text>
<line x1="55" y1="958.25" x2="64.65" y2="958.25" stroke="#000" stroke-width="2.9"/>
<text transform="translate(54.5,963.45) scale(1,1.085)" text-anchor="end" font-size="14.9" font-weight="bold" fill="#000" stroke="#000" stroke-width="0.25">150</text>
<line x1="58.2" y1="1296.83" x2="64.65" y2="1296.83" stroke="#000" stroke-width="2.9"/>
<line x1="58.2" y1="1285.15" x2="64.65" y2="1285.15" stroke="#000" stroke-width="2.9"/>
<line x1="58.2" y1="1273.47" x2="64.65" y2="1273.47" stroke="#000" stroke-width="2.9"/>
<line x1="58.2" y1="1261.8" x2="64.65" y2="1261.8" stroke="#000" stroke-width="2.9"/>
<line x1="58.2" y1="1250.12" x2="64.65" y2="1250.12" stroke="#000" stroke-width="2.9"/>
<line x1="58.2" y1="1238.45" x2="64.65" y2="1238.45" stroke="#000" stroke-width="2.9"/>
<line x1="58.2" y1="1226.78" x2="64.65" y2="1226.78" stroke="#000" stroke-width="2.9"/>
<line x1="58.2" y1="1215.1" x2="64.65" y2="1215.1" stroke="#000" stroke-width="2.9"/>
<line x1="58.2" y1="1203.42" x2="64.65" y2="1203.42" stroke="#000" stroke-width="2.9"/>
<line x1="58.2" y1="1180.08" x2="64.65" y2="1180.08" stroke="#000" stroke-width="2.9"/>
<line x1="58.2" y1="1168.4" x2="64.65" y2="1168.4" stroke="#000" stroke-width="2.9"/>
<line x1="58.2" y1="1156.72" x2="64.65" y2="1156.72" stroke="#000" stroke-width="2.9"/>
<line x1="58.2" y1="1145.05" x2="64.65" y2="1145.05" stroke="#000" stroke-width="2.9"/>
<line x1="58.2" y1="1133.38" x2="64.65" y2="1133.38" stroke="#000" stroke-width="2.9"/>
<line x1="58.2" y1="1121.7" x2="64.65" y2="1121.7" stroke="#000" stroke-width="2.9"/>
<line x1="58.2" y1="1110.03" x2="64.65" y2="1110.03" stroke="#000" stroke-width="2.9"/>
<line x1="58.2" y1="1098.35" x2="64.65" y2="1098.35" stroke="#000" stroke-width="2.9"/>
<line x1="58.2" y1="1086.67" x2="64.65" y2="1086.67" stroke="#000" stroke-width="2.9"/>
<line x1="58.2" y1="1063.33" x2="64.65" y2="1063.33" stroke="#000" stroke-width="2.9"/>
<line x1="58.2" y1="1051.65" x2="64.65" y2="1051.65" stroke="#000" stroke-width="2.9"/>
<line x1="58.2" y1="1039.97" x2="64.65" y2="1039.97" stroke="#000" stroke-width="2.9"/>
<line x1="58.2" y1="1028.3" x2="64.65" y2="1028.3" stroke="#000" stroke-width="2.9"/>
<line x1="58.2" y1="1016.62" x2="64.65" y2="1016.62" stroke="#000" stroke-width="2.9"/>
<line x1="58.2" y1="1004.95" x2="64.65" y2="1004.95" stroke="#000" stroke-width="2.9"/>
<line x1="58.2" y1="993.27" x2="64.65" y2="993.27" stroke="#000" stroke-width="2.9"/>
<line x1="58.2" y1="981.6" x2="64.65" y2="981.6" stroke="#000" stroke-width="2.9"/>
<line x1="58.2" y1="969.92" x2="64.65" y2="969.92" stroke="#000" stroke-width="2.9"/>
<line x1="77.3" y1="1308.5" x2="77.3" y2="1318.7" stroke="#000" stroke-width="2.9"/>
<text transform="translate(80.3,1329) rotate(-45) scale(1,1.05)" text-anchor="end" font-size="15" font-weight="bold" fill="#000" stroke="#000" stroke-width="0.2">Week 1</text>
<line x1="102.28" y1="1308.5" x2="102.28" y2="1318.7" stroke="#000" stroke-width="2.9"/>
<text transform="translate(105.28,1329) rotate(-45) scale(1,1.05)" text-anchor="end" font-size="15" font-weight="bold" fill="#000" stroke="#000" stroke-width="0.2">Week 2</text>
<line x1="127.26" y1="1308.5" x2="127.26" y2="1318.7" stroke="#000" stroke-width="2.9"/>
<text transform="translate(130.26,1329) rotate(-45) scale(1,1.05)" text-anchor="end" font-size="15" font-weight="bold" fill="#000" stroke="#000" stroke-width="0.2">Week 3</text>
<line x1="152.24" y1="1308.5" x2="152.24" y2="1318.7" stroke="#000" stroke-width="2.9"/>
<text transform="translate(155.24,1329) rotate(-45) scale(1,1.05)" text-anchor="end" font-size="15" font-weight="bold" fill="#000" stroke="#000" stroke-width="0.2">Week 4</text>
<line x1="177.22" y1="1308.5" x2="177.22" y2="1318.7" stroke="#000" stroke-width="2.9"/>
<text transform="translate(180.22,1329) rotate(-45) scale(1,1.05)" text-anchor="end" font-size="15" font-weight="bold" fill="#000" stroke="#000" stroke-width="0.2">Week 5</text>
<line x1="202.2" y1="1308.5" x2="202.2" y2="1318.7" stroke="#000" stroke-width="2.9"/>
<text transform="translate(205.2,1329) rotate(-45) scale(1,1.05)" text-anchor="end" font-size="15" font-weight="bold" fill="#000" stroke="#000" stroke-width="0.2">Week 6</text>
<line x1="227.18" y1="1308.5" x2="227.18" y2="1318.7" stroke="#000" stroke-width="2.9"/>
<text transform="translate(230.18,1329) rotate(-45) scale(1,1.05)" text-anchor="end" font-size="15" font-weight="bold" fill="#000" stroke="#000" stroke-width="0.2">Week 7</text>
<line x1="252.16" y1="1308.5" x2="252.16" y2="1318.7" stroke="#000" stroke-width="2.9"/>
<text transform="translate(255.16,1329) rotate(-45) scale(1,1.05)" text-anchor="end" font-size="15" font-weight="bold" fill="#000" stroke="#000" stroke-width="0.2">Week 8</text>
<line x1="277.14" y1="1308.5" x2="277.14" y2="1318.7" stroke="#000" stroke-width="2.9"/>
<text transform="translate(280.14,1329) rotate(-45) scale(1,1.05)" text-anchor="end" font-size="15" font-weight="bold" fill="#000" stroke="#000" stroke-width="0.2">Week 9</text>
<line x1="302.12" y1="1308.5" x2="302.12" y2="1318.7" stroke="#000" stroke-width="2.9"/>
<text transform="translate(305.12,1329) rotate(-45) scale(1,1.05)" text-anchor="end" font-size="15" font-weight="bold" fill="#000" stroke="#000" stroke-width="0.2">Week 10</text>
<line x1="327.1" y1="1308.5" x2="327.1" y2="1318.7" stroke="#000" stroke-width="2.9"/>
<text transform="translate(330.1,1329) rotate(-45) scale(1,1.05)" text-anchor="end" font-size="15" font-weight="bold" fill="#000" stroke="#000" stroke-width="0.2">Week 11</text>
<line x1="352.08" y1="1308.5" x2="352.08" y2="1318.7" stroke="#000" stroke-width="2.9"/>
<text transform="translate(355.08,1329) rotate(-45) scale(1,1.05)" text-anchor="end" font-size="15" font-weight="bold" fill="#000" stroke="#000" stroke-width="0.2">Week 12</text>
<line x1="377.06" y1="1308.5" x2="377.06" y2="1318.7" stroke="#000" stroke-width="2.9"/>
<text transform="translate(380.06,1329) rotate(-45) scale(1,1.05)" text-anchor="end" font-size="15" font-weight="bold" fill="#000" stroke="#000" stroke-width="0.2">Week 13</text>
<line x1="402.04" y1="1308.5" x2="402.04" y2="1318.7" stroke="#000" stroke-width="2.9"/>
<text transform="translate(405.04,1329) rotate(-45) scale(1,1.05)" text-anchor="end" font-size="15" font-weight="bold" fill="#000" stroke="#000" stroke-width="0.2">Week 14</text>
<line x1="427.02" y1="1308.5" x2="427.02" y2="1318.7" stroke="#000" stroke-width="2.9"/>
<text transform="translate(430.02,1329) rotate(-45) scale(1,1.05)" text-anchor="end" font-size="15" font-weight="bold" fill="#000" stroke="#000" stroke-width="0.2">Week 15</text>
<line x1="452" y1="1308.5" x2="452" y2="1318.7" stroke="#000" stroke-width="2.9"/>
<text transform="translate(455,1329) rotate(-45) scale(1,1.05)" text-anchor="end" font-size="15" font-weight="bold" fill="#000" stroke="#000" stroke-width="0.2">Week 16</text>
<line x1="476.98" y1="1308.5" x2="476.98" y2="1318.7" stroke="#000" stroke-width="2.9"/>
<text transform="translate(479.98,1329) rotate(-45) scale(1,1.05)" text-anchor="end" font-size="15" font-weight="bold" fill="#000" stroke="#000" stroke-width="0.2">Week 17</text>
<line x1="501.96" y1="1308.5" x2="501.96" y2="1318.7" stroke="#000" stroke-width="2.9"/>
<text transform="translate(504.96,1329) rotate(-45) scale(1,1.05)" text-anchor="end" font-size="15" font-weight="bold" fill="#000" stroke="#000" stroke-width="0.2">Week 18</text>
<line x1="526.94" y1="1308.5" x2="526.94" y2="1318.7" stroke="#000" stroke-width="2.9"/>
<text transform="translate(529.94,1329) rotate(-45) scale(1,1.05)" text-anchor="end" font-size="15" font-weight="bold" fill="#000" stroke="#000" stroke-width="0.2">Week 19</text>
<line x1="551.92" y1="1308.5" x2="551.92" y2="1318.7" stroke="#000" stroke-width="2.9"/>
<text transform="translate(554.92,1329) rotate(-45) scale(1,1.05)" text-anchor="end" font-size="15" font-weight="bold" fill="#000" stroke="#000" stroke-width="0.2">Week 20</text>
<line x1="576.9" y1="1308.5" x2="576.9" y2="1318.7" stroke="#000" stroke-width="2.9"/>
<text transform="translate(579.9,1329) rotate(-45) scale(1,1.05)" text-anchor="end" font-size="15" font-weight="bold" fill="#000" stroke="#000" stroke-width="0.2">Week 21</text>
<line x1="601.88" y1="1308.5" x2="601.88" y2="1318.7" stroke="#000" stroke-width="2.9"/>
<text transform="translate(604.88,1329) rotate(-45) scale(1,1.05)" text-anchor="end" font-size="15" font-weight="bold" fill="#000" stroke="#000" stroke-width="0.2">Week 22</text>
<text x="177.3" y="1155.1" text-anchor="middle" font-size="9" fill="#000">First SARS-CoV-2 case</text>
<text x="177.3" y="1164.8" text-anchor="middle" font-size="9" fill="#000">registered in Finland</text>
<line x1="177.3" y1="1173.9" x2="177.3" y2="1225.35" stroke="#000" stroke-width="3" stroke-linecap="round"/>
<path d="M171,1223.75 L183.6,1223.75 L177.3,1239 Z" fill="#000"/>
<text x="277.2" y="1099.5" text-anchor="middle" font-size="9" fill="#000">First domestic</text>
<text x="277.2" y="1109.2" text-anchor="middle" font-size="9" fill="#000">SARS-CoV-2 case</text>
<line x1="277.2" y1="1116.1" x2="277.2" y2="1167.1" stroke="#000" stroke-width="3" stroke-linecap="round"/>
<path d="M270.9,1165.5 L283.5,1165.5 L277.2,1180.4 Z" fill="#000"/>
<text x="352.3" y="1063" text-anchor="middle" font-size="9" fill="#000">Emergency</text>
<text x="352.3" y="1072.7" text-anchor="middle" font-size="9" fill="#000">Powers Act</text>
<line x1="352.3" y1="1079.5" x2="352.3" y2="1130.6" stroke="#000" stroke-width="3" stroke-linecap="round"/>
<path d="M346,1129 L358.6,1129 L352.3,1144.2 Z" fill="#000"/>
<text x="413.65" y="942.7" text-anchor="middle" font-size="9" fill="#000">Helsinki-Uusimaa</text>
<text x="413.65" y="952.6" text-anchor="middle" font-size="9" fill="#000">movement restriction</text>
<text x="502.55" y="978.7" text-anchor="middle" font-size="9" fill="#000">Restaurants closed</text>
<polyline points="77.3,1296.83 102.28,1280.48 127.26,1268.81 152.24,1257.13 177.22,1245.45 202.2,1229.11 227.18,1217.43 252.16,1208.1 277.14,1189.41 302.12,1170.74 327.1,1166.07 352.08,1159.06 377.06,1140.38 402.04,1128.7 427.02,1114.69 452,1103.02 476.98,1093.68 501.96,1075 526.94,1063.33 551.92,1049.32 576.9,1032.97 601.88,1030.63" fill="none" stroke="#000080" stroke-width="2.1" stroke-linejoin="round"/>
<path d="M77.3,1290.12 L84.1,1303.53 L70.5,1303.53 Z" fill="#000080"/>
<path d="M102.28,1273.78 L109.08,1287.18 L95.48,1287.18 Z" fill="#000080"/>
<path d="M127.26,1262.11 L134.06,1275.51 L120.46,1275.51 Z" fill="#000080"/>
<path d="M152.24,1250.43 L159.04,1263.83 L145.44,1263.83 Z" fill="#000080"/>
<path d="M177.22,1238.75 L184.02,1252.15 L170.42,1252.15 Z" fill="#000080"/>
<path d="M202.2,1222.41 L209,1235.81 L195.4,1235.81 Z" fill="#000080"/>
<path d="M227.18,1210.73 L233.98,1224.13 L220.38,1224.13 Z" fill="#000080"/>
<path d="M252.16,1201.39 L258.96,1214.8 L245.36,1214.8 Z" fill="#000080"/>
<path d="M277.14,1182.71 L283.94,1196.12 L270.34,1196.12 Z" fill="#000080"/>
<path d="M302.12,1164.04 L308.92,1177.44 L295.32,1177.44 Z" fill="#000080"/>
<path d="M327.1,1159.37 L333.9,1172.77 L320.3,1172.77 Z" fill="#000080"/>
<path d="M352.08,1152.36 L358.88,1165.76 L345.28,1165.76 Z" fill="#000080"/>
<path d="M377.06,1133.68 L383.86,1147.08 L370.26,1147.08 Z" fill="#000080"/>
<path d="M402.04,1122 L408.84,1135.4 L395.24,1135.4 Z" fill="#000080"/>
<path d="M427.02,1107.99 L433.82,1121.39 L420.22,1121.39 Z" fill="#000080"/>
<path d="M452,1096.32 L458.8,1109.72 L445.2,1109.72 Z" fill="#000080"/>
<path d="M476.98,1086.98 L483.78,1100.38 L470.18,1100.38 Z" fill="#000080"/>
<path d="M501.96,1068.3 L508.76,1081.7 L495.16,1081.7 Z" fill="#000080"/>
<path d="M526.94,1056.62 L533.74,1070.03 L520.14,1070.03 Z" fill="#000080"/>
<path d="M551.92,1042.62 L558.72,1056.02 L545.12,1056.02 Z" fill="#000080"/>
<path d="M576.9,1026.27 L583.7,1039.67 L570.1,1039.67 Z" fill="#000080"/>
<path d="M601.88,1023.93 L608.68,1037.34 L595.08,1037.34 Z" fill="#000080"/>
<polyline points="77.3,1306.16 102.28,1289.82 127.26,1275.81 152.24,1266.47 177.22,1254.8 202.2,1238.45 227.18,1233.78 252.16,1217.43 277.14,1212.77 302.12,1196.42 327.1,1184.74 352.08,1175.4 377.06,1168.4 402.04,1163.73 427.02,1152.06 452,1135.71 476.98,1114.69 501.96,1100.68 526.94,1093.68 551.92,1079.67 576.9,1067.99 601.88,1063.33" fill="none" stroke="#ff0000" stroke-width="2.1" stroke-linejoin="round"/>
<rect x="70.5" y="1299.37" width="13.6" height="13.6" fill="#ff0000"/>
<rect x="95.48" y="1283.02" width="13.6" height="13.6" fill="#ff0000"/>
<rect x="120.46" y="1269.01" width="13.6" height="13.6" fill="#ff0000"/>
<rect x="145.44" y="1259.67" width="13.6" height="13.6" fill="#ff0000"/>
<rect x="170.42" y="1248" width="13.6" height="13.6" fill="#ff0000"/>
<rect x="195.4" y="1231.65" width="13.6" height="13.6" fill="#ff0000"/>
<rect x="220.38" y="1226.98" width="13.6" height="13.6" fill="#ff0000"/>
<rect x="245.36" y="1210.63" width="13.6" height="13.6" fill="#ff0000"/>
<rect x="270.34" y="1205.97" width="13.6" height="13.6" fill="#ff0000"/>
<rect x="295.32" y="1189.62" width="13.6" height="13.6" fill="#ff0000"/>
<rect x="320.3" y="1177.94" width="13.6" height="13.6" fill="#ff0000"/>
<rect x="345.28" y="1168.61" width="13.6" height="13.6" fill="#ff0000"/>
<rect x="370.26" y="1161.6" width="13.6" height="13.6" fill="#ff0000"/>
<rect x="395.24" y="1156.93" width="13.6" height="13.6" fill="#ff0000"/>
<rect x="420.22" y="1145.26" width="13.6" height="13.6" fill="#ff0000"/>
<rect x="445.2" y="1128.91" width="13.6" height="13.6" fill="#ff0000"/>
<rect x="470.18" y="1107.89" width="13.6" height="13.6" fill="#ff0000"/>
<rect x="495.16" y="1093.88" width="13.6" height="13.6" fill="#ff0000"/>
<rect x="520.14" y="1086.88" width="13.6" height="13.6" fill="#ff0000"/>
<rect x="545.12" y="1072.87" width="13.6" height="13.6" fill="#ff0000"/>
<rect x="570.1" y="1061.19" width="13.6" height="13.6" fill="#ff0000"/>
<rect x="595.08" y="1056.53" width="13.6" height="13.6" fill="#ff0000"/>
<clipPath id="cb3"><rect x="377.2" y="958.25" width="75.1" height="350.25"/></clipPath>
<clipPath id="cg3"><rect x="401.7" y="986.1" width="201.5" height="322.4"/></clipPath>
<path clip-path="url(#cg3)" d="M67.37,984.1 L393.77,1310.5 M75.22,984.1 L401.62,1310.5 M83.07,984.1 L409.47,1310.5 M90.92,984.1 L417.32,1310.5 M98.77,984.1 L425.17,1310.5 M106.63,984.1 L433.03,1310.5 M114.48,984.1 L440.88,1310.5 M122.33,984.1 L448.73,1310.5 M130.18,984.1 L456.58,1310.5 M138.03,984.1 L464.43,1310.5 M145.89,984.1 L472.29,1310.5 M153.74,984.1 L480.14,1310.5 M161.59,984.1 L487.99,1310.5 M169.44,984.1 L495.84,1310.5 M177.29,984.1 L503.69,1310.5 M185.15,984.1 L511.55,1310.5 M193,984.1 L519.4,1310.5 M200.85,984.1 L527.25,1310.5 M208.7,984.1 L535.1,1310.5 M216.55,984.1 L542.95,1310.5 M224.41,984.1 L550.81,1310.5 M232.26,984.1 L558.66,1310.5 M240.11,984.1 L566.51,1310.5 M247.96,984.1 L574.36,1310.5 M255.81,984.1 L582.21,1310.5 M263.67,984.1 L590.07,1310.5 M271.52,984.1 L597.92,1310.5 M279.37,984.1 L605.77,1310.5 M287.22,984.1 L613.62,1310.5 M295.07,984.1 L621.47,1310.5 M302.93,984.1 L629.33,1310.5 M310.78,984.1 L637.18,1310.5 M318.63,984.1 L645.03,1310.5 M326.48,984.1 L652.88,1310.5 M334.33,984.1 L660.73,1310.5 M342.19,984.1 L668.59,1310.5 M350.04,984.1 L676.44,1310.5 M357.89,984.1 L684.29,1310.5 M365.74,984.1 L692.14,1310.5 M373.59,984.1 L699.99,1310.5 M381.45,984.1 L707.85,1310.5 M389.3,984.1 L715.7,1310.5 M397.15,984.1 L723.55,1310.5 M405,984.1 L731.4,1310.5 M412.85,984.1 L739.25,1310.5 M420.71,984.1 L747.11,1310.5 M428.56,984.1 L754.96,1310.5 M436.41,984.1 L762.81,1310.5 M444.26,984.1 L770.66,1310.5 M452.11,984.1 L778.51,1310.5 M459.97,984.1 L786.37,1310.5 M467.82,984.1 L794.22,1310.5 M475.67,984.1 L802.07,1310.5 M483.52,984.1 L809.92,1310.5 M491.37,984.1 L817.77,1310.5 M499.23,984.1 L825.63,1310.5 M507.08,984.1 L833.48,1310.5 M514.93,984.1 L841.33,1310.5 M522.78,984.1 L849.18,1310.5 M530.63,984.1 L857.03,1310.5 M538.49,984.1 L864.89,1310.5 M546.34,984.1 L872.74,1310.5 M554.19,984.1 L880.59,1310.5 M562.04,984.1 L888.44,1310.5 M569.89,984.1 L896.29,1310.5 M577.75,984.1 L904.15,1310.5 M585.6,984.1 L912,1310.5 M593.45,984.1 L919.85,1310.5 M601.3,984.1 L927.7,1310.5 M609.15,984.1 L935.55,1310.5" stroke="rgba(0,102,0,0.49)" stroke-width="2.0" fill="none"/>
<rect x="401.7" y="986.1" width="201.5" height="322.4" fill="none" stroke="#3f9a3f" stroke-width="1.3" stroke-linejoin="round"/>
<path clip-path="url(#cb3)" d="M15.22,1310.5 L369.47,956.25 M23.1,1310.5 L377.35,956.25 M30.97,1310.5 L385.22,956.25 M38.85,1310.5 L393.1,956.25 M46.72,1310.5 L400.97,956.25 M54.6,1310.5 L408.85,956.25 M62.47,1310.5 L416.72,956.25 M70.35,1310.5 L424.6,956.25 M78.22,1310.5 L432.47,956.25 M86.1,1310.5 L440.35,956.25 M93.97,1310.5 L448.22,956.25 M101.85,1310.5 L456.1,956.25 M109.72,1310.5 L463.97,956.25 M117.6,1310.5 L471.85,956.25 M125.47,1310.5 L479.72,956.25 M133.35,1310.5 L487.6,956.25 M141.22,1310.5 L495.47,956.25 M149.1,1310.5 L503.35,956.25 M156.97,1310.5 L511.22,956.25 M164.85,1310.5 L519.1,956.25 M172.72,1310.5 L526.97,956.25 M180.6,1310.5 L534.85,956.25 M188.47,1310.5 L542.72,956.25 M196.35,1310.5 L550.6,956.25 M204.22,1310.5 L558.47,956.25 M212.1,1310.5 L566.35,956.25 M219.97,1310.5 L574.22,956.25 M227.85,1310.5 L582.1,956.25 M235.72,1310.5 L589.97,956.25 M243.6,1310.5 L597.85,956.25 M251.47,1310.5 L605.72,956.25 M259.35,1310.5 L613.6,956.25 M267.22,1310.5 L621.47,956.25 M275.1,1310.5 L629.35,956.25 M282.97,1310.5 L637.22,956.25 M290.85,1310.5 L645.1,956.25 M298.72,1310.5 L652.97,956.25 M306.6,1310.5 L660.85,956.25 M314.47,1310.5 L668.72,956.25 M322.35,1310.5 L676.6,956.25 M330.22,1310.5 L684.47,956.25 M338.1,1310.5 L692.35,956.25 M345.97,1310.5 L700.22,956.25 M353.85,1310.5 L708.1,956.25 M361.72,1310.5 L715.97,956.25 M369.6,1310.5 L723.85,956.25 M377.47,1310.5 L731.72,956.25 M385.35,1310.5 L739.6,956.25 M393.22,1310.5 L747.47,956.25 M401.1,1310.5 L755.35,956.25 M408.97,1310.5 L763.22,956.25 M416.85,1310.5 L771.1,956.25 M424.72,1310.5 L778.97,956.25 M432.6,1310.5 L786.85,956.25 M440.47,1310.5 L794.72,956.25 M448.35,1310.5 L802.6,956.25 M456.22,1310.5 L810.47,956.25 M464.1,1310.5 L818.35,956.25" stroke="rgba(0,0,110,0.52)" stroke-width="2.0" fill="none"/>
<rect x="377.2" y="958.25" width="75.1" height="350.25" fill="none" stroke="#1e1e92" stroke-width="1.2"/>
<line x1="401.1" y1="1308.5" x2="603.8" y2="1308.5" stroke="#0f4519" stroke-width="2.9"/>
<line x1="376.6" y1="1308.5" x2="452.9" y2="1308.5" stroke="#00005c" stroke-width="2.9"/>
<line x1="621.1" y1="969.7" x2="644" y2="969.7" stroke="#ff0000" stroke-width="2.1"/>
<rect x="626" y="962.9" width="13.6" height="13.6" fill="#ff0000"/>
<text transform="translate(654.8,974.6) scale(0.965,1)" font-size="13.8" fill="#000">2019</text>
<line x1="621.1" y1="997.6" x2="644" y2="997.6" stroke="#000080" stroke-width="2.1"/>
<path d="M632.8,990.9 L639.6,1004.3 L626,1004.3 Z" fill="#000080"/>
<text transform="translate(654.8,1002.1) scale(0.965,1)" font-size="13.8" fill="#000">2020</text>
</g>
</svg></body></html>
